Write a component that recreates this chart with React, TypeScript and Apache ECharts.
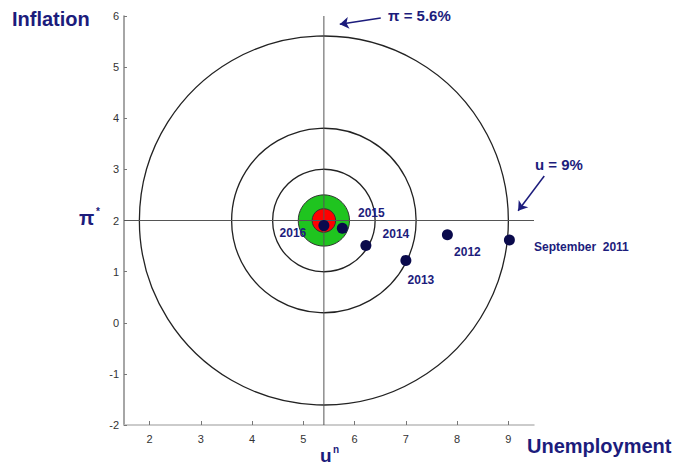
import React, { useEffect, useRef } from "react";
import * as echarts from "echarts";

// ---- data ----
const xTicks = [2, 3, 4, 5, 6, 7, 8, 9];
const xRange = [1.5, 9.5];
const yRange = [-2, 6];
const uNatural = 5.4;
const piTarget = 2;
const ringRadii = [3.6, 1.8, 1.0];
const greenRadius = [0.5];
const redRadius = [0.23];
const years = ["September  2011", "2012", "2013", "2014", "2015", "2016"];
const unemployment = [9.02, 7.81, 7.0, 6.22, 5.76, 5.4];
const inflation = [1.62, 1.72, 1.22, 1.51, 1.85, 1.9];
const arrowPi = [[6.51, 5.96], [5.71, 5.84]];
const arrowU = [[9.7, 2.87], [9.19, 2.19]];

// ---- styling ----
const NAVY = "#1c1c7c";
const FONT = "'Liberation Sans', Arial, sans-serif";
const labelOffsets = [[72, 7], [20, 17], [15, 20], [30, -12], [29, -15], [-31, 7]];

function circleSeries(radii: number[], fill: string, stroke: string, lw: number, z: number) {
  return {
    type: "custom",
    z,
    clip: false,
    silent: true,
    encode: { x: 0, y: 1 },
    data: radii.map((r) => [uNatural, piTarget, r]),
    renderItem: (params: any, api: any) => {
      const c = api.coord([api.value(0), api.value(1)]);
      const r = api.size([api.value(2), 0])[0];
      return {
        type: "circle",
        shape: { cx: c[0], cy: c[1], r },
        style: { fill, stroke, lineWidth: lw },
      };
    },
  };
}

export default function App() {
  const ref = useRef<HTMLDivElement>(null);
  useEffect(() => {
    document.body.style.margin = "0";
    const chart = echarts.init(ref.current!, null, { renderer: "svg" });
    const axisLabelStyle = { color: "#333", fontSize: 11, fontFamily: FONT };
    chart.setOption({
      animation: false,
      backgroundColor: "#fff",
      grid: { left: 124, top: 16, width: 410, height: 409, containLabel: false },
      xAxis: {
        type: "value",
        min: xRange[0],
        max: xRange[1],
        splitLine: { show: false },
        axisLine: { show: true, onZero: false, lineStyle: { color: "#bbb", width: 1.5 } },
        axisTick: { show: true, inside: true, length: 4, customValues: xTicks, lineStyle: { color: "#777" } },
        axisLabel: { ...axisLabelStyle, customValues: xTicks, margin: 8 },
      },
      yAxis: {
        type: "value",
        min: yRange[0],
        max: yRange[1],
        interval: 1,
        splitLine: { show: false },
        axisLine: { show: true, onZero: false, lineStyle: { color: "#888", width: 1.5 } },
        axisTick: { show: true, inside: true, length: 3, lineStyle: { color: "#777" } },
        axisLabel: { ...axisLabelStyle, margin: 5 },
      },
      series: [
        circleSeries(ringRadii, "none", "#222", 1.3, 1),
        circleSeries(greenRadius, "#1fc41f", "#333", 1, 2),
        circleSeries(redRadius, "#ff0000", "#333", 1, 3),
        {
          type: "line",
          z: 4,
          silent: true,
          showSymbol: false,
          lineStyle: { color: "#555", width: 1 },
          data: [[xRange[0], piTarget], [xRange[1], piTarget]],
        },
        {
          type: "line",
          z: 4,
          silent: true,
          showSymbol: false,
          lineStyle: { color: "#555", width: 1 },
          data: [[uNatural, yRange[0]], [uNatural, yRange[1]]],
        },
        {
          type: "lines",
          coordinateSystem: "cartesian2d",
          z: 5,
          clip: false,
          silent: true,
          symbol: ["none", "arrow"],
          symbolSize: 9,
          lineStyle: { color: NAVY, width: 1.5, opacity: 1 },
          data: [{ coords: arrowPi }, { coords: arrowU }],
        },
        {
          type: "scatter",
          z: 6,
          symbolSize: 11,
          itemStyle: { color: "#0a0a4c", opacity: 1 },
          data: years.map((name, i) => ({
            name,
            value: [unemployment[i], inflation[i]],
            label: { offset: labelOffsets[i] },
          })),
          label: {
            show: true,
            position: "inside",
            formatter: (p: any) => p.name,
            color: NAVY,
            fontSize: 12,
            fontWeight: "bold",
            fontFamily: FONT,
            align: "center",
            verticalAlign: "middle",
          },
        },
      ],
      graphic: [
        { type: "text", x: 12, y: 19, style: { text: "Inflation", font: `bold 20px ${FONT}`, fill: NAVY, verticalAlign: "middle" } },
        { type: "text", x: 527, y: 446, style: { text: "Unemployment", font: `bold 20px ${FONT}`, fill: NAVY, verticalAlign: "middle" } },
        { type: "text", x: 388, y: 15, style: { text: "π = 5.6%", font: `bold 15px ${FONT}`, fill: NAVY, verticalAlign: "middle" } },
        { type: "text", x: 535, y: 164, style: { text: "u = 9%", font: `bold 15px ${FONT}`, fill: NAVY, verticalAlign: "middle" } },
        { type: "text", x: 79, y: 218, style: { text: "π", font: `bold 20px ${FONT}`, fill: NAVY, verticalAlign: "middle" } },
        { type: "text", x: 96, y: 211, style: { text: "*", font: `bold 10px ${FONT}`, fill: NAVY, verticalAlign: "middle" } },
        { type: "text", x: 320, y: 455, style: { text: "u", font: `bold 19px ${FONT}`, fill: NAVY, verticalAlign: "middle" } },
        { type: "text", x: 333, y: 449, style: { text: "n", font: `bold 10px ${FONT}`, fill: NAVY, verticalAlign: "middle" } },
      ],
    });
    return () => chart.dispose();
  }, []);
  return <div ref={ref} style={{ width: 674, height: 468 }} />;
}
